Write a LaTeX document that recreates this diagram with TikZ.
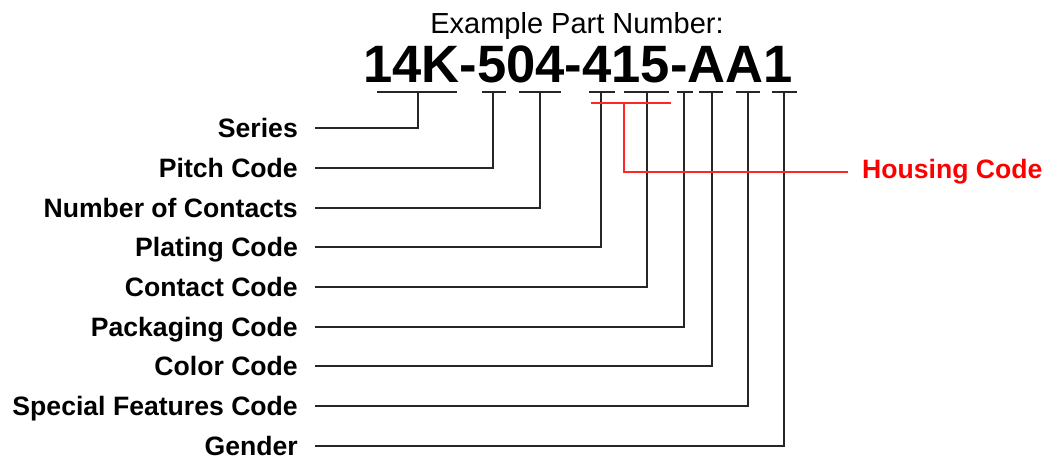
\documentclass[tikz,border=0pt]{standalone}
\usepackage{fontspec}
\setmainfont{Liberation Sans}
\usetikzlibrary{positioning,calc}

\begin{document}
\begin{tikzpicture}[x=1pt,y=-1pt,
    lbl/.style={font=\fontsize{26.6}{30}\selectfont\bfseries, inner sep=0pt, text height=19pt, text depth=0pt},
    lead/.style={line width=1.3pt, black!85},
    hlead/.style={line width=1.3pt, red!85}]
    \useasboundingbox (0,0) rectangle (1047,458);

    % Heading and part number
    \node[anchor=base] (title) at (577,33) {\fontsize{29}{32}\selectfont Example Part Number:};
    \node[anchor=base] (pn) at (578,82) {\fontsize{52.6}{56}\selectfont\bfseries 14K-504-415-AA1};

    % Bars under the fields
    \foreach \a/\b/\t/\n in {377/457/418/ser, 482/506/493/pit, 519/561/540/num,
        589/615/601/pla, 624/669/647/con, 677/693/684/pac, 699/723/712/col,
        736/760/748/spe, 772/797/784/gen}{
        \draw[lead] (\a,92) -- (\b,92);
        \coordinate (t-\n) at (\t,92);
    }

    % Field labels and leaders
    \foreach \y/\n/\txt in {128/ser/Series, 168/pit/Pitch Code, 208/num/Number of Contacts,
        247/pla/Plating Code, 287/con/Contact Code, 327/pac/Packaging Code,
        366/col/Color Code, 406/spe/Special Features Code, 446/gen/Gender}{
        \node[lbl, anchor=east] (\n) at (298,\y) {\txt};
        \draw[lead] ([xshift=17pt]\n.east) -| (t-\n);
    }

    % Housing code (red)
    \coordinate (t-hou) at (624,103);
    \draw[hlead] (591,103) -- (671,103);
    \node[lbl, red, anchor=west] (hou) at (862,169) {Housing Code};
    \draw[hlead] ([shift={(-14,3)}]hou.west) -| (t-hou);
\end{tikzpicture}
\end{document}
